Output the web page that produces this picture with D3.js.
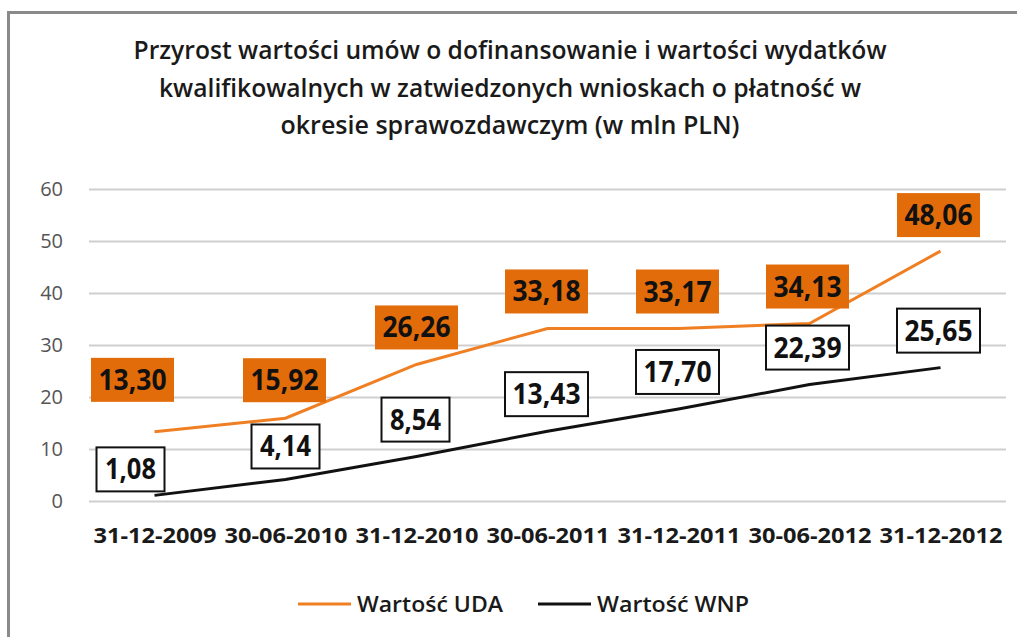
<!DOCTYPE html>
<html>
<head>
<meta charset="utf-8">
<script src="https://cdn.jsdelivr.net/npm/d3@7"></script>
<style>
  body { margin: 0; background: #fff; }
  text { font-family: "Open Sans", "DejaVu Sans", sans-serif; }
</style>
</head>
<body>
<div id="chart"></div>
<script>
// data
let dates = ["31-12-2009", "30-06-2010", "31-12-2010", "30-06-2011", "31-12-2011", "30-06-2012", "31-12-2012"];
let udaValues = [13.30, 15.92, 26.26, 33.18, 33.17, 34.13, 48.06];
let wnpValues = [1.08, 4.14, 8.54, 13.43, 17.70, 22.39, 25.65];
let yTicks = [0, 10, 20, 30, 40, 50, 60];
let titleLines = [
    "Przyrost wartości umów o dofinansowanie  i wartości wydatków",
    "kwalifikowalnych w zatwiedzonych wnioskach o płatność w",
    "okresie sprawozdawczym  (w mln PLN)"
];
let seriesNames = ["Wartość UDA", "Wartość WNP"];

let svgWidth = 1017;
let svgHeight = 637;

let margin = { top: 189, right: 11, bottom: 136, left: 89 };

let svg = d3.select("#chart")
    .append("svg")
    .attr("width", svgWidth)
    .attr("height", svgHeight);

// frame (only top and left edges are visible in the crop)
svg.append("line")
    .attr("x1", 8).attr("x2", svgWidth).attr("y1", 12.5).attr("y2", 12.5)
    .attr("stroke", "#8a8a8a").attr("stroke-width", 3);
svg.append("line")
    .attr("x1", 8.5).attr("x2", 8.5).attr("y1", 11).attr("y2", svgHeight)
    .attr("stroke", "#8a8a8a").attr("stroke-width", 3);

// title
let titleWidths = [753, 702, 459];
svg.append("g")
    .selectAll("text")
    .data(titleLines)
    .enter()
    .append("text")
    .attr("x", 510)
    .attr("y", (d, i) => 59 + i * 37.5)
    .attr("text-anchor", "middle")
    .attr("font-size", "26px")
    .attr("font-weight", 600)
    .attr("fill", "#1a1a1a")
    .attr("textLength", (d, i) => titleWidths[i])
    .attr("lengthAdjust", "spacingAndGlyphs")
    .text(d => d);

let xScale = d3.scalePoint()
    .domain(dates)
    .range([margin.left, svgWidth - margin.right])
    .padding(0.5);

let yScale = d3.scaleLinear()
    .domain([0, 60])
    .range([svgHeight - margin.bottom - 0, margin.top]);

// gridlines + y labels
let yAxis = d3.axisLeft(yScale)
    .tickValues(yTicks)
    .tickSize(-(svgWidth - margin.left - margin.right))
    .tickPadding(26);

let yG = svg.append("g")
    .attr("transform", `translate(${margin.left}, 0)`)
    .call(yAxis);
yG.select(".domain").remove();
yG.selectAll(".tick line").attr("stroke", "#cfcfcf").attr("stroke-width", 2);
yG.selectAll(".tick text")
    .attr("font-size", "20px")
    .attr("fill", "#555")
    .attr("font-family", "'Open Sans', sans-serif");

// x labels
let xAxis = d3.axisBottom(xScale).tickSize(0).tickPadding(0);
let xG = svg.append("g")
    .attr("transform", `translate(0, ${yScale(0) + 26})`)
    .call(xAxis);
xG.select(".domain").remove();
xG.selectAll(".tick text")
    .attr("font-size", "22px")
    .attr("font-weight", "bold")
    .attr("fill", "#1a1a1a")
    .attr("font-family", "'Open Sans', sans-serif")
    .attr("textLength", 123)
    .attr("lengthAdjust", "spacingAndGlyphs");

// lines
let udaColor = "#ef7f22";
let boxColor = "#e36c0a";

let line = d3.line()
    .x(d => xScale(d.date))
    .y(d => yScale(d.value));

let udaData = dates.map((d, i) => ({ date: d, value: udaValues[i] }));
let wnpData = dates.map((d, i) => ({ date: d, value: wnpValues[i] }));

svg.append("path")
    .datum(udaData)
    .attr("d", line)
    .attr("fill", "none")
    .attr("stroke", udaColor)
    .attr("stroke-width", 3);

svg.append("path")
    .datum(wnpData)
    .attr("d", line)
    .attr("fill", "none")
    .attr("stroke", "#111")
    .attr("stroke-width", 3);

// data labels: moved above the point, first ones nudged a bit in the original
let fmt = v => v.toFixed(2).replace(".", ",");
let udaShift = [[-22, -52], [-1, -38], [0, -37], [-1, -37], [-1, -37], [-2, -37], [-2, -36]];
let wnpShift = [[-24, -26], [0, -33], [-1, -37], [-1, -37], [-1, -37], [-2, -37], [-2, -37]];

function addLabels(data, shift, fill, stroke) {
    let g = svg.append("g")
        .selectAll("g")
        .data(data)
        .enter()
        .append("g")
        .attr("transform", (d, i) =>
            `translate(${xScale(d.date) + shift[i][0]}, ${yScale(d.value) + shift[i][1]})`);

    let w = d => fmt(d.value).length === 4 ? 68 : 83;
    g.append("rect")
        .attr("x", d => -w(d) / 2)
        .attr("y", -22)
        .attr("width", w)
        .attr("height", 44)
        .attr("fill", fill)
        .attr("stroke", stroke)
        .attr("stroke-width", stroke === "none" ? 0 : 2);

    g.append("text")
        .attr("text-anchor", "middle")
        .attr("y", 10)
        .attr("font-size", "28px")
        .attr("font-weight", "bold")
        .attr("fill", "#111")
        .attr("textLength", d => fmt(d.value).length === 4 ? 51 : 68)
        .attr("lengthAdjust", "spacingAndGlyphs")
        .text(d => fmt(d.value));
}

addLabels(udaData, udaShift, boxColor, "none");
addLabels(wnpData, wnpShift, "#fff", "#111");

// legend
let legend = svg.append("g").attr("transform", "translate(0, 604)");
let legendItems = [
    { name: seriesNames[0], color: udaColor, x: 298, w: 146 },
    { name: seriesNames[1], color: "#111", x: 538, w: 152 }
];
let li = legend.selectAll("g")
    .data(legendItems)
    .enter()
    .append("g")
    .attr("transform", d => `translate(${d.x}, 0)`);
li.append("line")
    .attr("x1", 0).attr("x2", 53)
    .attr("stroke", d => d.color)
    .attr("stroke-width", 3);
li.append("text")
    .attr("x", 59)
    .attr("y", 8)
    .attr("font-size", "21px")
    .attr("font-weight", 600)
    .attr("fill", "#1a1a1a")
    .attr("textLength", d => d.w)
    .attr("lengthAdjust", "spacingAndGlyphs")
    .text(d => d.name);
</script>
</body>
</html>
